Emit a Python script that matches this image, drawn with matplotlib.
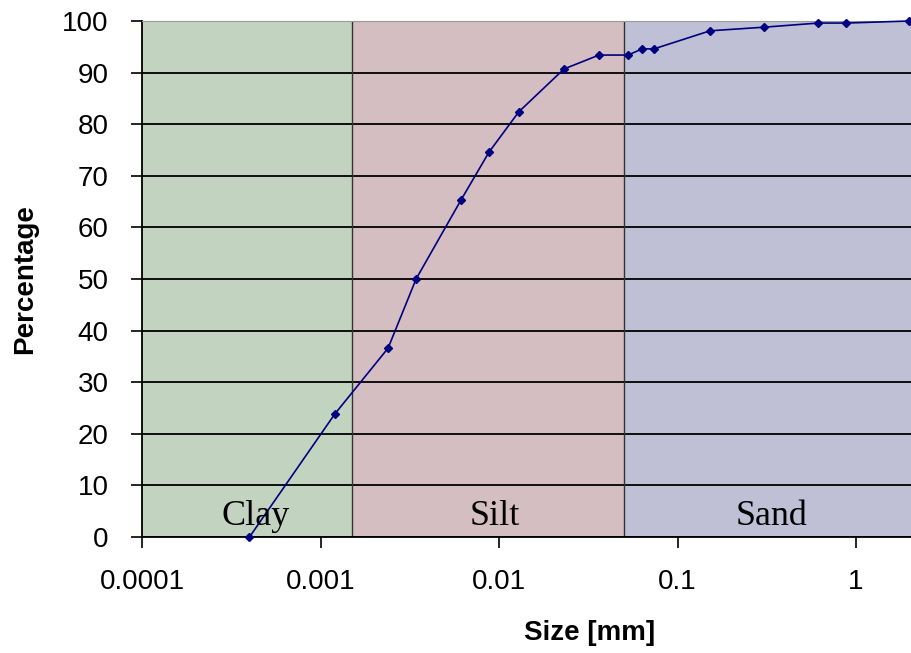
import numpy as np
import matplotlib
matplotlib.use("Agg")
import matplotlib.pyplot as plt

# Grain size distribution
size_mm = [0.0004, 0.0012, 0.00239, 0.00343, 0.00612, 0.00879, 0.0129, 0.0231,
           0.0363, 0.0528, 0.0633, 0.0738, 0.152, 0.305, 0.612, 0.88, 1.98]
percent = [0.0, 23.8, 36.6, 50.0, 65.3, 74.6, 82.4, 90.7,
           93.4, 93.4, 94.6, 94.6, 98.1, 98.8, 99.6, 99.6, 100.0]

# soil classes: name, lower, upper bound [mm], label position
classes = ["Clay", "Silt", "Sand"]
bounds = [0.0001, 0.0015, 0.05, 2.03]
label_x = [0.000435, 0.0095, 0.338]
class_colors = ["#C2D4C0", "#D5BEC1", "#BFC0D5"]

x_ticks = [0.0001, 0.001, 0.01, 0.1, 1]
x_ticklabels = ["0.0001", "0.001", "0.01", "0.1", "1"]
y_ticks = list(range(0, 101, 10))

plt.rcParams["font.family"] = ["Liberation Sans", "DejaVu Sans"]

fig = plt.figure(figsize=(9.11, 6.53), dpi=100)
ax = fig.add_axes([142 / 911, 116 / 653, 1 - 142 / 911, 516 / 653])

for i, name in enumerate(classes):
    ax.axvspan(bounds[i], bounds[i + 1], color=class_colors[i], zorder=0, lw=0)
    ax.text(label_x[i], 4, name, family="Liberation Serif", fontsize=26,
            ha="center", va="center", zorder=4)
for b in bounds[1:-1]:
    ax.axvline(b, color="#333333", lw=1.0, zorder=1)

ax.set_yticks(y_ticks)
ax.yaxis.grid(True, color="black", lw=1.3, zorder=1)
ax.set_axisbelow(True)

ax.plot(size_mm, percent, color="#000080", lw=1.2, marker="D", markersize=4,
        zorder=3, clip_on=False)

ax.set_xscale("log")
ax.set_xlim(0.0001, 2.03)
ax.set_ylim(0, 100)
ax.set_xticks(x_ticks)
ax.set_xticklabels(x_ticklabels)
ax.minorticks_off()
ax.tick_params(axis="both", labelsize=20, length=8, width=1.2, color="black")
ax.tick_params(axis="x", pad=15)
ax.tick_params(axis="y", pad=16)

for s in ["left", "bottom"]:
    ax.spines[s].set_color("black")
    ax.spines[s].set_linewidth(1.3)
ax.spines["top"].set_color("#999999")
ax.spines["right"].set_visible(False)

ax.set_ylabel("Percentage", fontsize=20, fontweight="bold")
ax.yaxis.set_label_coords(-0.135, 0.5)
ax.set_xlabel("Size [mm]", fontsize=20, fontweight="bold")
ax.xaxis.set_label_coords(0.5826, -0.160)

fig.savefig("out.png", dpi=100)
